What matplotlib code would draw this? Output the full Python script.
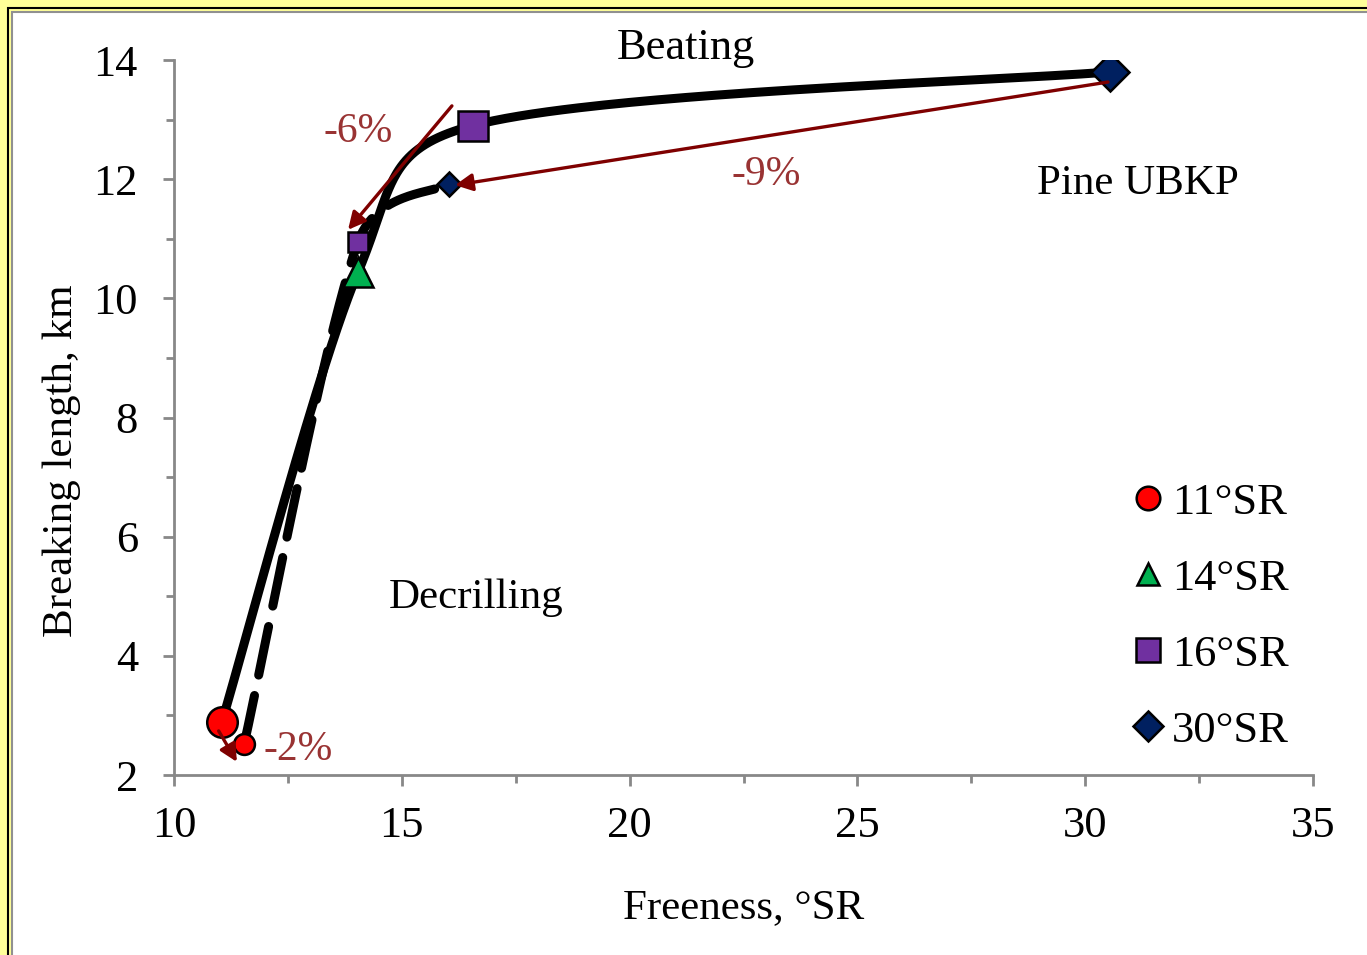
import numpy as np
import matplotlib
matplotlib.use("Agg")
import matplotlib.pyplot as plt
from matplotlib.lines import Line2D
from matplotlib.patches import Rectangle

plt.rcParams['font.family'] = ['Liberation Serif', 'DejaVu Serif']

# Beating curve (solid): 11, 14, 16, 30 °SR
beat_x = [11.05, 14.04, 16.56, 30.54]
beat_y = [2.89, 10.44, 12.90, 13.80]
# Decrilling curve (dashed): 11, 16, 30 °SR after decrilling
decr_x = [11.54, 14.04, 16.04]
decr_y = [2.52, 10.95, 11.92]

legend_labels = ['11°SR', '14°SR', '16°SR', '30°SR']
colors = ['#FF0000', '#00B050', '#7030A0', '#002060']
markers = ['o', '^', 's', 'D']

# arrows: (start, end, label, label position)
arrows = [
    ((30.50, 13.63), (16.17, 11.90), '-9%', (23.0, 12.07)),
    ((16.10, 13.23), (13.82, 11.15), '-6%', (14.04, 12.80)),
    ((10.98, 2.74), (11.38, 2.22), '-2%', (12.72, 2.42)),
]

XMIN, XMAX, YMIN, YMAX = 10, 35, 2, 14
W, H = 1367, 955
L, R, B, T = 174 / W, 1313 / W, 1 - 775 / H, 1 - 60 / H


def smooth(xs, ys, sx, sy, n=80):
    # Excel-like smoothed line: Bezier with 1/6 tension, arms capped at half a segment
    p = np.column_stack([np.array(xs) * sx, np.array(ys) * sy])
    m = len(p)
    out = []
    for i in range(m - 1):
        p0 = p[max(i - 1, 0)]
        p1, p2 = p[i], p[i + 1]
        p3 = p[min(i + 2, m - 1)]
        d12 = np.linalg.norm(p2 - p1)
        d02 = np.linalg.norm(p2 - p0)
        d13 = np.linalg.norm(p3 - p1)
        f1 = 1 / 6 if d02 / 6 < d12 / 2 else d12 / d02 / 2
        f2 = 1 / 6 if d13 / 6 < d12 / 2 else d12 / d13 / 2
        c1 = p1 + (p2 - p0) * f1
        c2 = p2 - (p3 - p1) * f2
        t = np.linspace(0, 1, n)[:, None]
        seg = ((1 - t) ** 3) * p1 + 3 * ((1 - t) ** 2) * t * c1 + 3 * (1 - t) * t ** 2 * c2 + t ** 3 * p2
        out.append(seg)
    out = np.vstack(out)
    return out[:, 0] / sx, out[:, 1] / sy


fig = plt.figure(figsize=(W / 100, H / 100), dpi=100, facecolor='#FFFF99')
# white chart area with borders
fig.patches.append(Rectangle((12 / W, -0.1), 1.2, 1 - 12 / H + 0.1, transform=fig.transFigure,
                             facecolor='white', edgecolor='#909090', lw=1.5, zorder=-2))
fig.patches.append(Rectangle((8 / W, -0.1), 1.2, 1 - 8 / H + 0.1, transform=fig.transFigure,
                             facecolor='none', edgecolor='black', lw=1.5, zorder=-1))

ax = fig.add_axes([L, B, R - L, T - B])
ax.set_facecolor('none')
ax.set_xlim(XMIN, XMAX)
ax.set_ylim(YMIN, YMAX)

sx = (R - L) * W / (XMAX - XMIN)
sy = (T - B) * H / (YMAX - YMIN)

bx, by = smooth(beat_x, beat_y, sx, sy)
ax.plot(bx, by, color='black', lw=6.5, solid_capstyle='round', zorder=2)
dx, dy = smooth(decr_x, decr_y, sx, sy)
ax.plot(dx, dy, color='black', lw=6.5, dashes=(5.5, 2.3), dash_capstyle='round', zorder=2)

# markers: beating (large) and decrilled (small)
big_ms = [22, 22, 21, 19]
for x, y, c, m, ms in zip(beat_x, beat_y, colors, markers, big_ms):
    ax.plot(x, y, marker=m, ms=ms, color=c, mec='black', mew=1.8, ls='none', zorder=3)
small_idx = [0, 2, 3]
small_ms = [15, 14, 12]
for (x, y), i, ms in zip(zip(decr_x, decr_y), small_idx, small_ms):
    ax.plot(x, y, marker=markers[i], ms=ms, color=colors[i], mec='black', mew=1.8, ls='none', zorder=3)

for (s, e, lab, lp) in arrows:
    ann = ax.annotate('', xy=e, xytext=s,
                      arrowprops=dict(arrowstyle='-|>', color='#7F0000', lw=2.4,
                                      mutation_scale=26, shrinkA=0, shrinkB=0), zorder=4)
    ax.text(lp[0], lp[1], lab, color='#993333', fontsize=30, ha='center', va='center', zorder=5)

ax.text(21.24, 14.2, 'Beating', fontsize=32, ha='center', va='center')
ax.text(16.63, 4.97, 'Decrilling', fontsize=31, ha='center', va='center')
ax.text(31.16, 11.92, 'Pine UBKP', fontsize=31, ha='center', va='center')

ax.set_xticks(np.arange(10, 36, 5))
ax.set_xticks(np.arange(10, 36, 2.5), minor=True)
ax.set_yticks(np.arange(2, 15, 2))
ax.set_yticks(np.arange(2, 15, 1), minor=True)
for sp in ['top', 'right']:
    ax.spines[sp].set_visible(False)
for sp in ['left', 'bottom']:
    ax.spines[sp].set_color('#888888')
    ax.spines[sp].set_linewidth(2)
ax.tick_params(which='major', direction='out', length=8, width=2, color='#888888',
               labelsize=32)
ax.tick_params(which='minor', direction='out', length=6, width=2, color='#888888')
ax.tick_params(axis='y', which='major', pad=18)
ax.tick_params(axis='x', which='major', pad=14)

ax.set_xlabel('Freeness, °SR', fontsize=31, labelpad=31)
ax.set_ylabel('Breaking length, km', fontsize=31)
ax.yaxis.label.set(ha='center', va='center')
ax.yaxis.set_label_coords(-0.0985, 0.44)

handles = [Line2D([], [], marker=m, color=c, mec='black', mew=1.8, ls='none', ms=ms)
           for m, c, ms in zip(markers, colors, [17, 16, 17, 15])]
ax.legend(handles, legend_labels, loc='upper left', bbox_to_anchor=(0.8415, 0.409),
          frameon=False, fontsize=32, handlelength=0.7, handletextpad=0.19,
          labelspacing=0.81, borderpad=0, borderaxespad=0)

fig.savefig('out.png', dpi=100, facecolor=fig.get_facecolor())
